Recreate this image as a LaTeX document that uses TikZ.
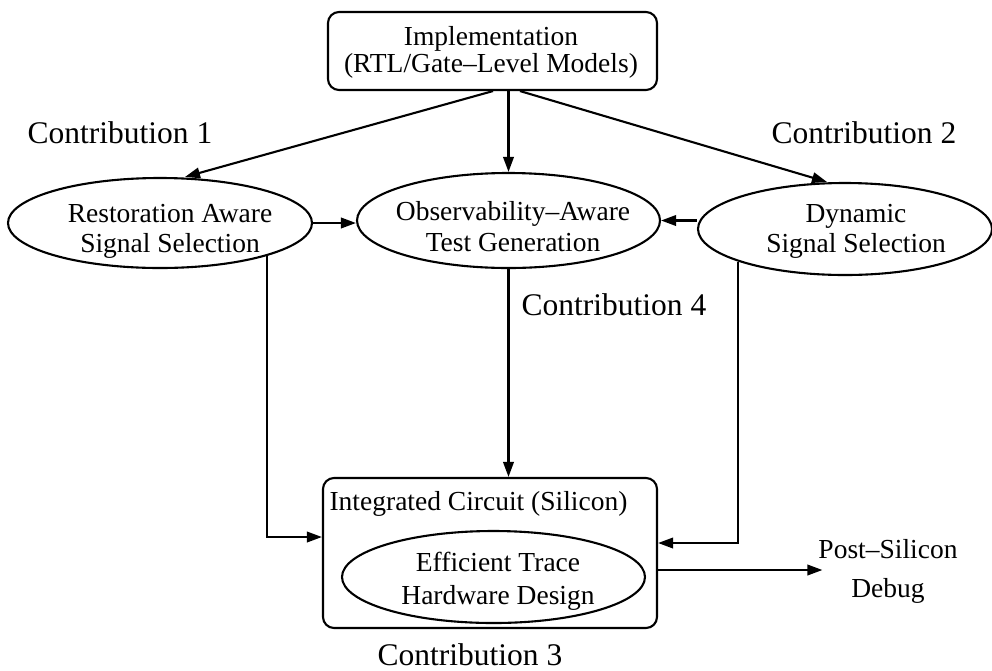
\documentclass[tikz,border=0pt]{standalone}
\usepackage{fontspec}
\setmainfont{Liberation Serif}
\usetikzlibrary{shapes.geometric,arrows.meta,calc}

\begin{document}
\begin{tikzpicture}[x=1pt,y=-1pt,
  line width=2.1pt,
  oval/.style={draw,ellipse,inner sep=0pt},
  roundbox/.style={draw,rectangle,rounded corners=11pt,inner sep=0pt},
  lbl/.style={inner sep=0pt,align=center,font=\fontsize{27.5}{#1}\selectfont},
  lbl/.default=31,
  contrib/.style={inner sep=0pt,anchor=base,font=\fontsize{31.5}{36}\selectfont},
  arr/.style={-{Triangle[length=15pt,width=10.5pt]}},
]
\useasboundingbox (0,0) rectangle (992,670);

% boxes and ovals
\node[roundbox,minimum width=329pt,minimum height=78pt] (impl) at (492.5,51) {};
\node[oval,minimum width=304pt,minimum height=90pt] (rss) at (160,223) {};
\node[oval,minimum width=303pt,minimum height=95pt] (obs) at (508.5,220.5) {};
\node[oval,minimum width=294pt,minimum height=92pt] (dss) at (845,229) {};
\node[roundbox,minimum width=334pt,minimum height=150pt] (ic) at (490,553) {};
\node[oval,minimum width=303pt,minimum height=92pt] (eth) at (493.5,577) {};

% texts
\node[lbl=27] (impltxt) at (491,52) {Implementation\\(RTL/Gate–Level Models)};
\node[lbl=30] (rsstxt) at (170,231) {Restoration Aware\\Signal Selection};
\node[lbl=31] (obstxt) at (513,227) {Observability–Aware\\Test Generation};
\node[lbl=30] (dsstxt) at (856,231) {Dynamic\\Signal Selection};
\node[lbl,anchor=base] (ictxt) at (478.5,510) {Integrated Circuit (Silicon)};
\node[lbl=33] (ethtxt) at (498,581) {Efficient Trace\\Hardware Design};
\node[lbl=39] (post) at (888,571) {Post–Silicon\\Debug};

\node[contrib] (c1) at (120,143) {Contribution 1};
\node[contrib] (c2) at (864,143) {Contribution 2};
\node[contrib] (c4) at (614,315) {Contribution 4};
\node[contrib] (c3) at (470,665) {Contribution 3};

% connectors
\draw[arr] ([xshift=0.5pt]impl.south) -- ([xshift=25pt]rss.north);
\draw[arr] (obs.north |- impl.south) -- (obs.north);
\draw[arr] ([xshift=27.5pt]impl.south) -- ([xshift=-18pt]dss.north);
\draw[arr] (rss.east) -- (rss.east -| obs.west);
\draw[arr] (obs.east -| dss.west) -- (obs.east);
\draw[arr] (rss.-17.8) |- ([yshift=16pt]ic.west);
\draw[arr] (dss.197.9) |- ([yshift=10pt]ic.east);
\draw[arr] (obs.south) -- (obs.south |- ic.north);
\draw[arr] ([yshift=-17pt]ic.east) -- ($(ic.east -| post.west)+(5,17)$);
\end{tikzpicture}
\end{document}
